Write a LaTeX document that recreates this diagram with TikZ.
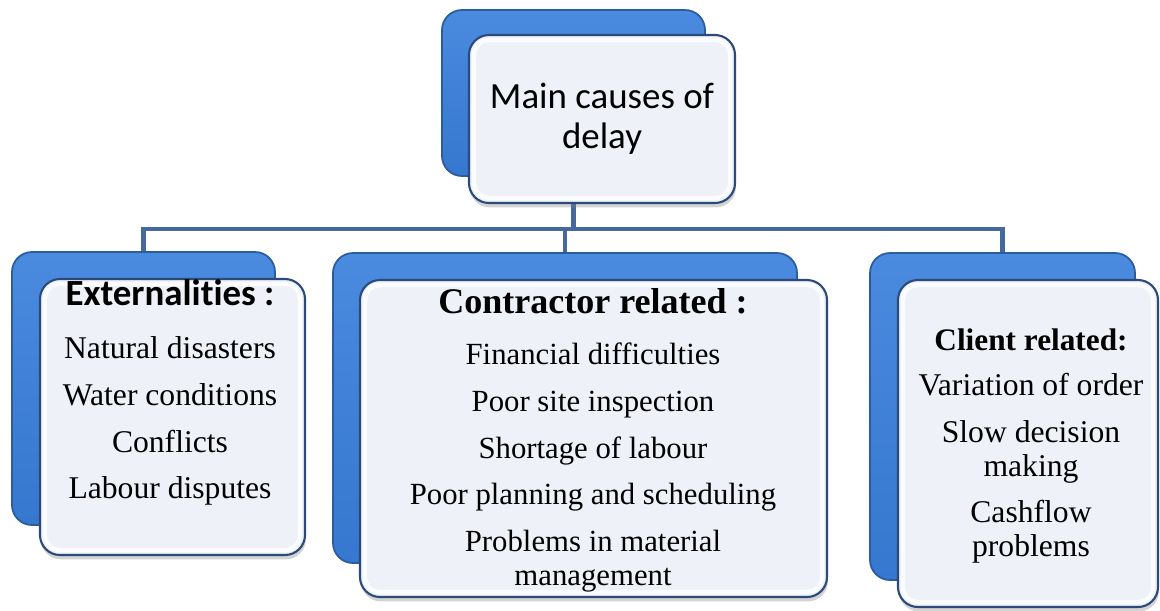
\documentclass[tikz,border=0pt]{standalone}
\usepackage{fontspec}
\setmainfont{Liberation Serif}
\newfontfamily\calibri[Ligatures=NoCommon]{Carlito}
\usetikzlibrary{positioning, shadows}
\definecolor{backblue}{HTML}{3677CF}
\definecolor{backtop}{HTML}{4A8BE0}
\definecolor{backedge}{HTML}{2A5C9E}
\definecolor{frontfill}{HTML}{EEF2F8}
\definecolor{frontedge}{HTML}{2B4A7A}
\definecolor{connblue}{HTML}{45699C}

\begin{document}
\begin{tikzpicture}[node distance = 0cm,
        backbox/.style={rectangle, rounded corners=0.4cm, draw=backedge, line width=1pt, top color=backtop, bottom color=backblue, inner sep=0pt},
        frontbox/.style={rectangle, rounded corners=0.4cm, draw=frontedge, line width=1.2pt, fill=frontfill, inner sep=0pt, drop shadow={shadow xshift=0.5pt, shadow yshift=-2.5pt, opacity=0.35},
            path picture={\draw[white, line width=2.5pt, rounded corners=0.3cm, opacity=0.8] ([shift={(0.1,-0.1)}]path picture bounding box.north west) rectangle ([shift={(-0.1,0.1)}]path picture bounding box.south east);}},
        conn/.style={draw=connblue, line width=2.6pt},
        hdr/.style={text height=0.45cm, text depth=0.15cm, inner sep=0pt, font=\bfseries\fontsize{20.5}{22}\selectfont},
        cause/.style={text height=0.42cm, text depth=0.14cm, inner ysep=0.18cm, inner xsep=0pt, font=\fontsize{17.5}{20}\selectfont}
    ]
        \useasboundingbox (0,0) rectangle (23.2,-12.2);
        % Back boxes
        \node[backbox, minimum width=5.26cm, minimum height=3.32cm] (mainback) at (11.47,-1.86) {};
        \node[backbox, minimum width=5.26cm, minimum height=5.46cm] (extback) at (2.87,-7.77) {};
        \node[backbox, minimum width=9.28cm, minimum height=6.2cm] (contrback) at (11.3,-8.16) {};
        \node[backbox, minimum width=5.3cm, minimum height=6.54cm] (clientback) at (20.05,-8.33) {};
        % Connections
        \coordinate (bus) at (11.5,-4.58);
        \path[conn] (mainback.south) -- (mainback.south |- bus);
        \path[conn] (extback.north) |- (bus) -| (clientback.north);
        \path[conn] (contrback.north) -- (contrback.north |- bus);
        % Front boxes
        \node[frontbox, minimum width=5.32cm, minimum height=3.36cm, align=center, font=\calibri\fontsize{21}{22.8}\selectfont] (mainfront) at (12.04,-2.38) {Main causes of\\delay};
        \node[frontbox, minimum width=5.3cm, minimum height=5.52cm] (extfront) at (3.45,-8.34) {};
        \node[frontbox, minimum width=9.34cm, minimum height=6.34cm] (contrfront) at (11.87,-8.77) {};
        \node[frontbox, minimum width=5.2cm, minimum height=6.54cm] (clientfront) at (20.56,-8.87) {};
        % Externalities
        \node[hdr, font=\calibri\bfseries\fontsize{21}{22}\selectfont] (exthead) at (3.4,-5.96) {Externalities :};
        \node[cause, below=0.30cm of exthead, font=\fontsize{18}{20}\selectfont] (natural) {Natural disasters};
        \node[cause, below=of natural, font=\fontsize{18}{20}\selectfont] (water) {Water conditions};
        \node[cause, below=of water, font=\fontsize{18}{20}\selectfont] (conflicts) {Conflicts};
        \node[cause, below=of conflicts, font=\fontsize{18}{20}\selectfont] (disputes) {Labour disputes};
        % Contractor related
        \node[hdr] (contrhead) at (11.86,-6.12) {Contractor related :};
        \node[cause, below=0.26cm of contrhead] (financial) {Financial difficulties};
        \node[cause, below=of financial] (inspection) {Poor site inspection};
        \node[cause, below=of inspection] (shortage) {Shortage of labour};
        \node[cause, below=of shortage] (planning) {Poor planning and scheduling};
        \node[cause, below=of planning] (material) {Problems in material};
        \node[cause, below=-0.26cm of material] (materialb) {management};
        % Client related
        \node[hdr, font=\bfseries\fontsize{17.8}{20}\selectfont] (clienthead) at (20.62,-6.86) {Client related:};
        \node[cause, below=0.14cm of clienthead, font=\fontsize{18}{20}\selectfont] (variation) {Variation of order};
        \node[cause, below=of variation, font=\fontsize{18}{20}\selectfont] (slowdec) {Slow decision};
        \node[cause, below=-0.26cm of slowdec, font=\fontsize{18}{20}\selectfont] (slowdecb) {making};
        \node[cause, below=of slowdecb, font=\fontsize{18}{20}\selectfont] (cashflow) {Cashflow};
        \node[cause, below=-0.26cm of cashflow, font=\fontsize{18}{20}\selectfont] (cashflowb) {problems};
    \end{tikzpicture}
\end{document}
